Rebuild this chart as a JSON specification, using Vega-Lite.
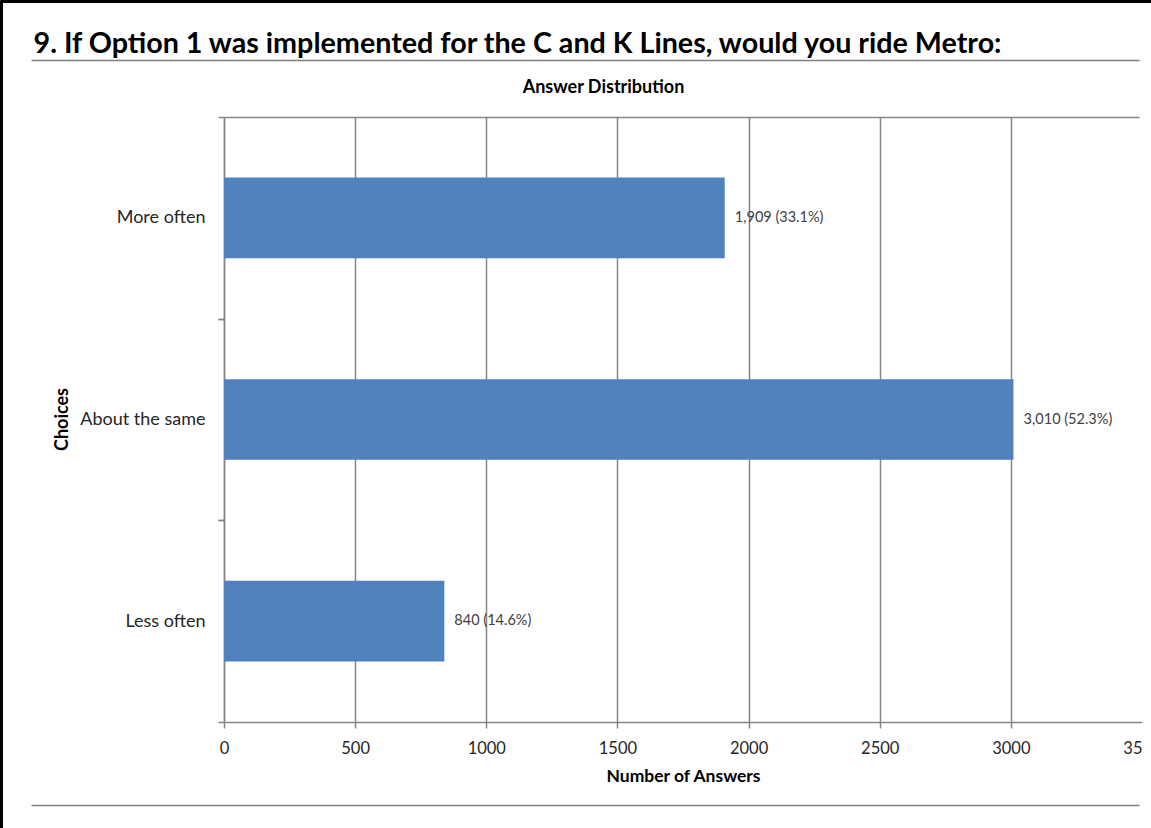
{
  "$schema": "https://vega.github.io/schema/vega-lite/v6.json",
  "width": 915,
  "height": 605,
  "autosize": {"type": "none"},
  "padding": {"left": 224, "top": 117, "right": 12, "bottom": 106},
  "background": "white",
  "config": {"font": "Lato", "view": {"stroke": null}},
  "data": {"values": [
    {"choice": "More often", "count": 1909, "label": "1,909 (33.1%)"},
    {"choice": "About the same", "count": 3010, "label": "3,010 (52.3%)"},
    {"choice": "Less often", "count": 840, "label": "840 (14.6%)"}
  ]},
  "resolve": {"scale": {"x": "independent", "y": "independent"}, "axis": {"x": "independent", "y": "independent"}},
  "layer": [
    {
      "mark": {"type": "bar", "color": "#4F81BD"},
      "encoding": {
        "y": {"field": "choice", "type": "nominal", "sort": ["More often", "About the same", "Less often"],
          "scale": {"paddingInner": 0.6, "paddingOuter": 0.3},
          "axis": {"orient": "left", "title": "Choices", "tickOffset": 100.83, "labelOffset": -100.83, "grid": false, "domainColor": "#868686", "domainWidth": 1.5, "tickColor": "#868686", "tickSize": 6, "tickWidth": 1.5,
            "labelFontSize": 18, "labelColor": "#262626", "labelPadding": 13, "labelLimit": 300,
            "titleFontSize": 18, "titleFontWeight": "bold", "titleColor": "#000000", "titleX": -162, "titleY": 302, "titleAngle": 270, "titleAlign": "center", "titleBaseline": "middle"}},
        "x": {"field": "count", "type": "quantitative", "scale": {"domain": [0, 3500], "range": [0, 918], "nice": false, "zero": false},
          "axis": {"orient": "bottom", "values": [0, 500, 1000, 1500, 2000, 2500, 3000, 3500], "format": "d",
            "grid": true, "gridColor": "#868686", "gridWidth": 1.5,
            "gridOpacity": {"condition": {"test": "datum.value > 3490", "value": 0}, "value": 1},
            "tickOpacity": {"condition": {"test": "datum.value > 3490", "value": 0}, "value": 1},
            "domainColor": "#868686", "domainWidth": 1.5, "tickColor": "#868686", "tickSize": 6, "tickWidth": 1.5,
            "labelFlush": false, "labelOverlap": false, "labelFontSize": 16.5, "labelColor": "#262626", "labelPadding": 12,
            "labelExpr": "datum.value == 3500 ? '35' : datum.label",
            "labelAlign": {"condition": {"test": "datum.value == 3500", "value": "right"}, "value": "center"},
            "title": "Number of Answers", "titleFontSize": 17.5, "titleFontWeight": "bold", "titleColor": "#000000", "titleY": 59, "titleBaseline": "alphabetic"}}
      }
    },
    {
      "mark": {"type": "text", "align": "left", "baseline": "middle", "dx": 10, "fontSize": 14.5, "color": "#404040"},
      "encoding": {
        "y": {"field": "choice", "type": "nominal", "sort": ["More often", "About the same", "Less often"],
          "scale": {"paddingInner": 0.6, "paddingOuter": 0.3},
          "axis": {"orient": "left", "labels": false, "domain": false, "grid": false, "title": null, "tickOffset": -100.83, "tickSize": 6, "tickWidth": 1.5, "tickColor": "#868686"}},
        "x": {"field": "count", "type": "quantitative", "scale": {"domain": [0, 3488], "nice": false, "zero": false},
          "axis": {"orient": "top", "labels": false, "ticks": false, "grid": false, "domain": true, "domainColor": "#868686", "domainWidth": 1.5,
            "title": "Answer Distribution", "titleFontSize": 18, "titleFontWeight": "bold", "titleColor": "#000000",
            "titleX": 379, "titleY": -25, "titleAlign": "center", "titleBaseline": "alphabetic"}},
        "text": {"field": "label"}
      }
    },
    {
      "mark": {"type": "point", "opacity": 0},
      "encoding": {
        "x": {"field": "count", "type": "quantitative", "scale": {"domain": [0, 1], "range": [-193, 915], "nice": false, "zero": false},
          "axis": {"orient": "top", "offset": 57, "labels": false, "ticks": false, "grid": false, "domainColor": "#7F7F7F", "domainWidth": 1.5,
            "title": "9. If Option 1 was implemented for the C and K Lines, would you ride Metro:",
            "titleFontSize": 28.7, "titleFontWeight": "bold", "titleColor": "#000000", "titleX": -191, "titleY": -8, "titleAlign": "left", "titleBaseline": "alphabetic", "titleLimit": 1200}}
      }
    },
    {
      "mark": {"type": "point", "opacity": 0},
      "encoding": {
        "x": {"field": "count", "type": "quantitative", "scale": {"domain": [0, 1], "range": [-193, 915], "nice": false, "zero": false},
          "axis": {"orient": "bottom", "offset": 83, "labels": false, "ticks": false, "grid": false, "domainColor": "#7F7F7F", "domainWidth": 1.5, "title": null}}
      }
    },
    {
      "mark": {"type": "point", "opacity": 0},
      "encoding": {
        "x": {"field": "count", "type": "quantitative", "scale": {"domain": [0, 1], "range": [-224, 927], "nice": false, "zero": false},
          "axis": {"orient": "top", "offset": 116, "labels": false, "ticks": false, "grid": false, "domainColor": "#000000", "domainWidth": 3, "title": null}},
        "y": {"field": "count", "type": "quantitative", "scale": {"domain": [0, 1], "range": [711, -117], "nice": false, "zero": false},
          "axis": {"orient": "left", "offset": 223, "labels": false, "ticks": false, "grid": false, "domainColor": "#000000", "domainWidth": 3, "title": null}}
      }
    }
  ]
}
